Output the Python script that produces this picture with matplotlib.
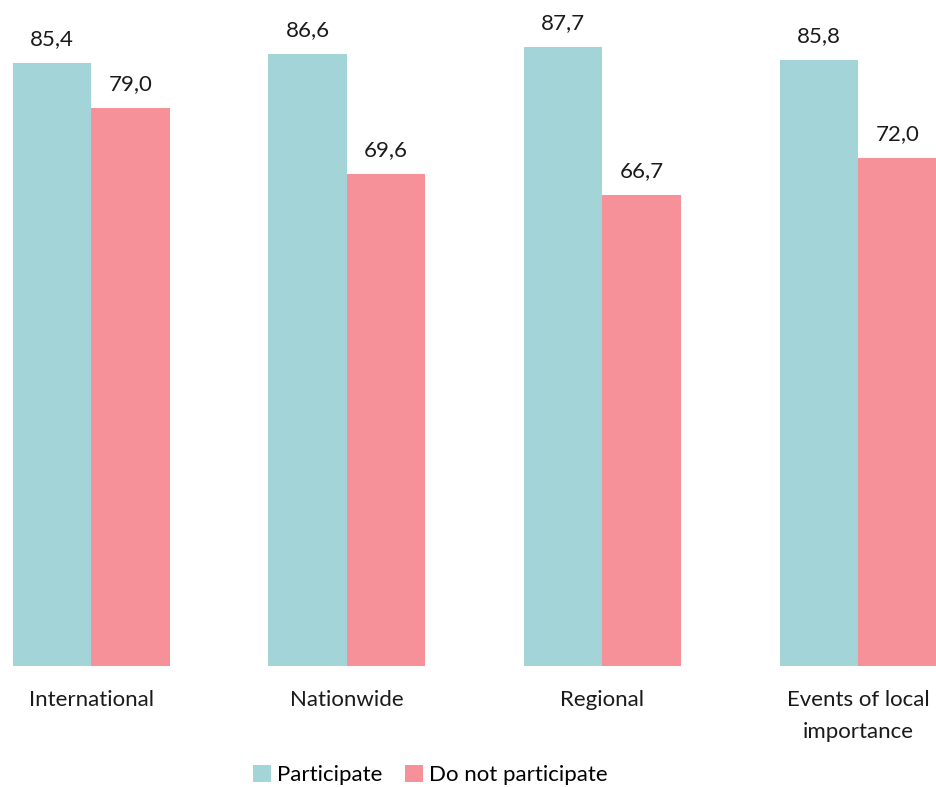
import matplotlib
matplotlib.use("Agg")
import matplotlib.pyplot as plt
import numpy as np

plt.rcParams["font.family"] = ["Lato", "DejaVu Sans"]

# Data
categories = ["International", "Nationwide", "Regional", "Events of local\nimportance"]
participate = [85.4, 86.6, 87.7, 85.8]
not_participate = [79.0, 69.6, 66.7, 72.0]
series_names = ["Participate", "Do not participate"]
colors = ["#A2D4D8", "#F79199"]

fig = plt.figure(figsize=(9.36, 7.87), dpi=100)
ax = fig.add_axes([0, 0.1537, 1, 0.8463])

x = np.arange(len(categories))
w = 0.307

bars1 = ax.bar(x - w / 2, participate, w, color=colors[0], label=series_names[0])
bars2 = ax.bar(x + w / 2, not_participate, w, color=colors[1], label=series_names[1])

# Value labels, decimal comma
for bars in (bars1, bars2):
    for b in bars:
        ax.annotate(f"{b.get_height():.1f}".replace(".", ","),
                    (b.get_x() + b.get_width() / 2, b.get_height()),
                    xytext=(0, 10), textcoords="offset points",
                    ha="center", va="bottom", fontsize=16, color="#1a1a1a")

ax.set_xlim(-0.356, 3.305)
ax.set_ylim(0, 94.3)

ax.set_xticks(x)
ax.set_xticklabels(categories, fontsize=16, color="#1a1a1a", linespacing=1.75)
ax.tick_params(axis="x", length=0, pad=17)
ax.set_yticks([])
for s in ax.spines.values():
    s.set_visible(False)

fig.legend(loc="lower center", bbox_to_anchor=(0.46, -0.012), ncol=2, frameon=False,
           fontsize=16, handlelength=0.8, handleheight=0.8, handletextpad=0.3,
           columnspacing=1.0, borderaxespad=0.1)

fig.savefig("out.png", dpi=100)
